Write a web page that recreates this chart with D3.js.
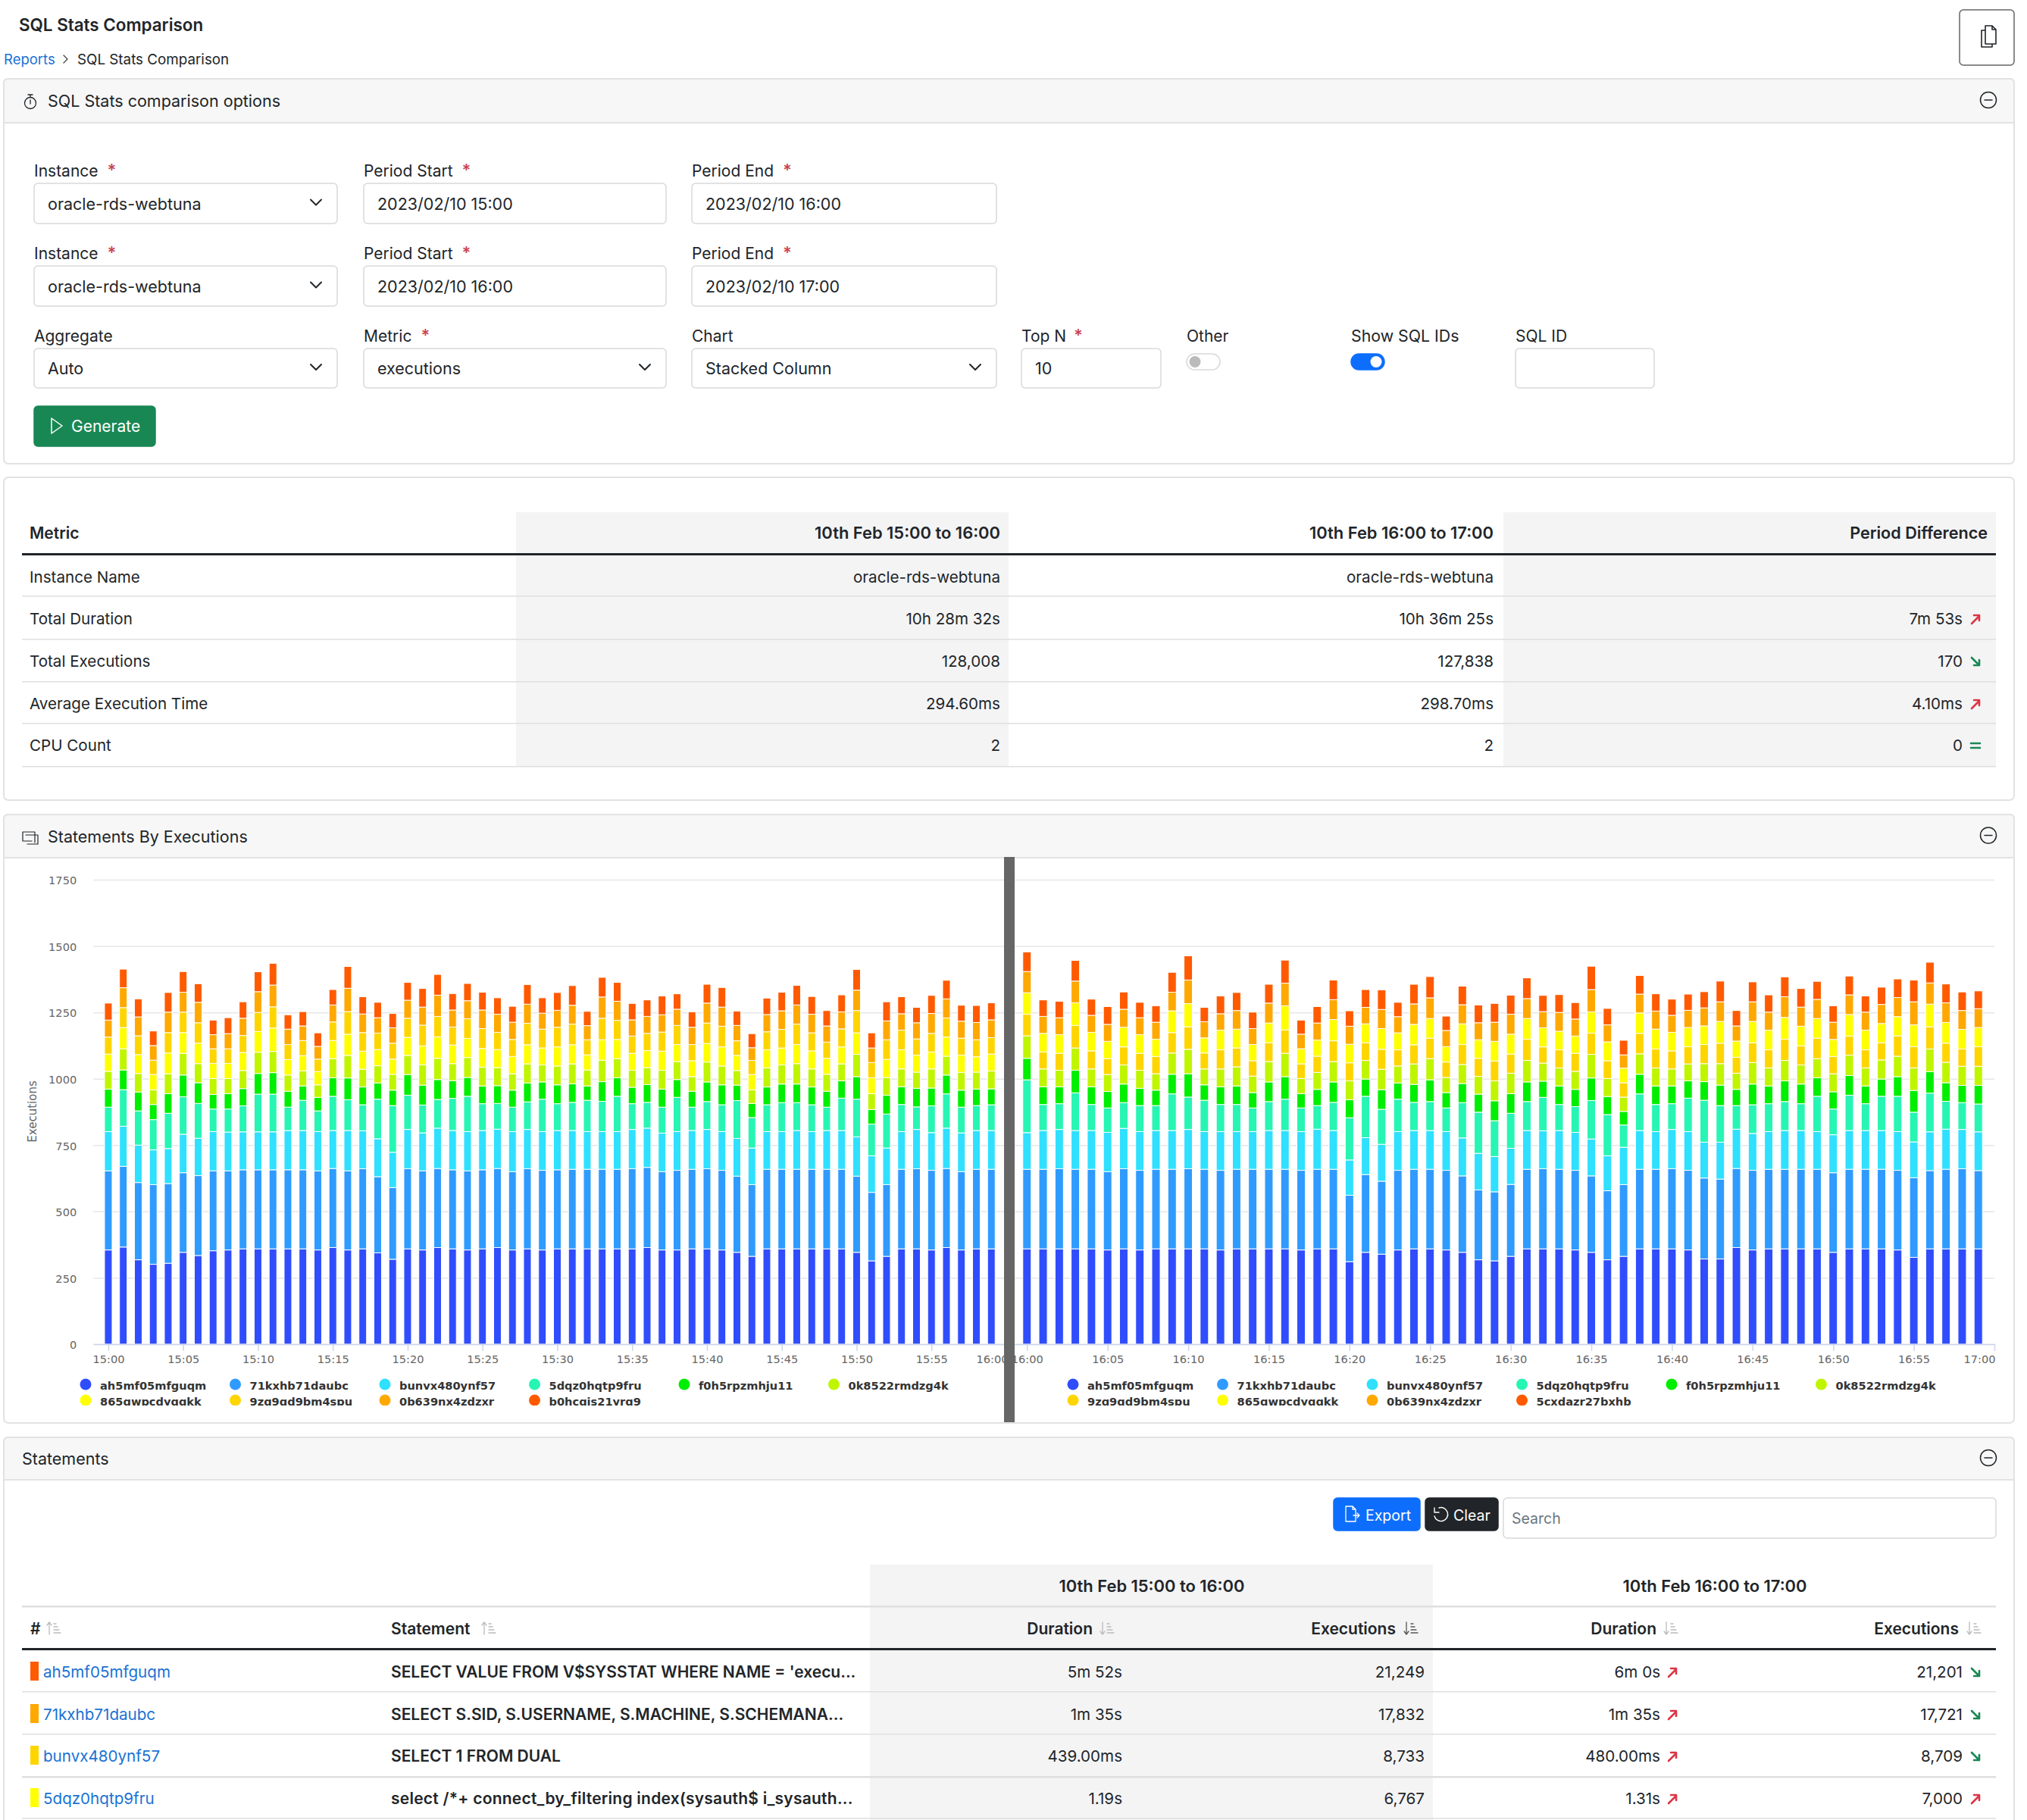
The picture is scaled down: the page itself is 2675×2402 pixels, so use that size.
<!DOCTYPE html>
<html>
<head>
<meta charset="utf-8">
<script src="https://cdn.jsdelivr.net/npm/d3@7"></script>
<style>
  body { margin: 0; background: #fff; overflow: hidden; }
  svg { display: block; font-family: Inter, sans-serif; }
</style>
</head>
<body>
<svg id="page" width="2675" height="2402"></svg>
<script>
// one row per minute, stacked bottom to top in the order of the ids below
const firstPeriodRows = [
[355,298,148,92,68,67,65,64,64,64],[366,304,151,138,74,80,80,75,75,70],[318,291,141,129,71,70,71,71,71,68],
[301,300,131,114,57,55,58,54,55,55],[305,300,132,133,74,75,78,77,77,74],[346,300,145,141,82,82,78,77,75,78],
[334,301,141,131,78,72,77,77,77,70],[352,301,148,85,55,60,57,55,53,55],[355,298,146,87,58,57,57,55,57,60],
[359,298,143,98,65,68,68,64,65,62],[359,298,143,142,78,80,78,72,78,75],[359,298,143,142,81,80,88,80,82,82],
[359,298,148,88,60,61,58,57,58,54],[359,298,148,114,54,57,57,57,55,54],[355,298,148,78,51,47,50,47,48,51],
[364,298,143,129,70,72,68,70,64,58],[355,298,152,116,82,85,80,85,88,82],[359,302,143,98,67,67,68,70,70,65],
[344,287,143,149,61,65,61,62,58,58],[320,270,133,176,58,60,57,60,58,54],[359,302,148,129,78,72,68,72,68,67],
[355,298,143,105,75,77,71,78,68,70],[364,298,152,108,75,80,81,77,80,78],[359,298,148,121,67,64,70,68,64,62],
[355,298,148,133,71,75,72,74,68,65],[359,298,148,101,67,71,70,75,70,67],[364,298,148,97,67,68,68,65,68,62],
[355,295,151,92,64,62,65,64,65,60],[359,302,148,104,71,72,72,81,72,74],[355,300,146,122,65,64,64,71,60,58],
[359,298,148,101,71,71,72,74,64,67],[359,300,146,106,70,75,72,78,71,74],[359,300,142,118,54,60,57,57,53,54],
[359,300,142,114,74,81,77,81,80,74],[359,300,142,133,70,72,72,72,72,71],[359,302,148,97,62,64,64,65,61,62],
[364,302,148,97,67,64,64,65,64,62],[355,295,145,98,68,71,72,72,65,71],[355,300,146,129,67,68,64,72,61,58],
[359,300,146,88,60,55,60,61,65,58],[359,302,148,105,74,75,70,77,75,71],[355,300,146,101,75,71,72,78,72,74],
[346,287,142,143,58,55,57,55,58,54],[331,270,138,115,53,51,58,53,48,53],[359,300,142,101,67,72,68,68,65,62],
[359,300,142,109,70,72,64,70,70,70],[359,300,146,105,70,77,72,77,72,74],[359,300,142,101,67,68,68,68,70,67],
[359,300,146,88,60,64,60,61,61,58],[359,300,146,122,65,64,64,68,64,64],[346,287,148,142,85,84,81,84,77,78],
[314,258,138,119,55,60,60,57,55,57],[331,270,138,128,71,67,68,74,71,72],[359,300,142,102,67,67,72,74,62,64],
[359,302,148,85,70,61,64,61,61,58],[355,300,142,101,67,72,64,70,75,68],[364,298,152,129,71,71,72,72,72,70],
[355,295,146,97,64,67,65,64,64,60],[359,300,146,94,62,64,58,64,65,64],[359,300,146,97,60,67,64,62,67,64]
];
const secondPeriodRows = [
[359,300,138,199,81,85,81,81,80,74],[359,300,146,98,67,67,64,70,64,62],[359,302,148,97,64,62,64,70,64,62],
[359,300,146,142,85,84,85,85,82,78],[359,300,146,98,67,67,68,70,64,61],[355,295,148,92,62,64,60,65,64,67],
[359,302,152,97,70,72,68,74,68,65],[355,300,146,98,65,68,64,70,64,58],[359,300,146,94,58,62,65,65,64,62],
[359,300,146,138,74,80,77,82,70,75],[359,302,148,122,88,92,85,87,89,91],[359,300,142,118,58,60,60,57,61,54],
[355,300,146,102,67,67,72,74,62,67],[359,300,142,102,70,72,71,71,70,68],[359,300,142,89,58,62,58,61,60,62],
[359,300,146,109,74,77,71,74,75,71],[359,300,146,118,85,88,88,91,85,87],[355,300,146,89,54,57,55,57,55,53],
[359,300,151,89,61,64,61,61,64,62],[359,300,146,106,77,77,78,80,75,74],[311,250,133,159,68,71,68,70,68,58],
[346,293,139,156,65,70,67,71,62,67],[339,275,139,132,74,77,75,78,72,74],[355,300,146,122,61,64,61,64,61,54],
[359,300,146,106,68,77,72,77,77,74],[359,300,146,109,82,80,77,74,78,80],[355,300,146,89,58,57,58,58,61,54],
[346,288,143,133,72,72,75,78,72,70],[318,263,138,155,68,67,68,70,64,67],[314,260,133,135,75,75,75,74,72,71],
[331,271,136,132,74,77,72,75,75,72],[359,300,146,109,74,81,80,78,75,78],[359,302,143,126,61,68,61,72,61,61],
[359,300,146,98,70,68,68,70,71,67],[355,300,143,97,65,68,68,65,64,62],[346,288,139,145,85,89,80,80,84,88],
[318,260,132,155,68,68,67,71,64,62],[331,270,141,84,51,54,54,55,50,55],[359,300,146,138,74,77,77,77,71,70],
[359,300,142,102,70,68,71,75,68,65],[359,302,148,97,67,64,68,70,64,61],[355,300,146,126,65,64,65,72,65,61],
[321,305,135,158,70,68,72,70,68,61],[321,301,139,138,77,81,77,82,74,78],[364,298,148,89,61,61,60,61,57,58],
[355,300,139,108,78,81,75,80,74,75],[359,300,142,105,67,68,68,74,68,65],[359,300,146,109,78,77,80,82,78,75],
[359,300,146,101,74,72,72,74,72,70],[359,300,142,133,70,72,77,74,72,68],[346,300,143,97,65,68,65,64,65,62],
[359,300,146,133,74,77,72,81,74,71],[359,300,146,101,67,68,68,74,68,61],[359,300,146,129,65,72,65,72,72,65],
[355,300,146,133,74,77,77,72,72,70],[327,300,135,112,82,85,80,82,87,82],[359,295,146,146,81,85,84,85,80,78],
[359,300,151,105,70,77,72,78,74,71],[359,302,148,101,65,72,65,74,71,70],[359,295,146,105,70,72,74,72,71,67]
];
const firstPeriodIds = ["ah5mf05mfguqm","71kxhb71daubc","bunvx480ynf57","5dqz0hqtp9fru","f0h5rpzmhju11","0k8522rmdzg4k","865qwpcdyqqkk","9zq9qd9bm4spu","0b639nx4zdzxr","b0hcqjs21yrq9"];
const secondPeriodIds = ["ah5mf05mfguqm","71kxhb71daubc","bunvx480ynf57","5dqz0hqtp9fru","f0h5rpzmhju11","0k8522rmdzg4k","9zq9qd9bm4spu","865qwpcdyqqkk","0b639nx4zdzxr","5cxdazr27bxhb"];
const firstPeriodColors = ["#304dfd","#2f9bff","#2fe0ff","#27f5b3","#00ee00","#c0f500","#ffff00","#ffd500","#ffa800","#ff5a00"];
const secondPeriodColors = ["#304dfd","#2f9bff","#2fe0ff","#27f5b3","#00ee00","#c0f500","#ffd500","#ffff00","#ffa800","#ff5a00"];
const yTicks = [0,250,500,750,1000,1250,1500,1750];

const metricHeader = ["Metric","10th Feb 15:00 to 16:00","10th Feb 16:00 to 17:00","Period Difference"];
const metricRows = [
  ["Instance Name","oracle-rds-webtuna","oracle-rds-webtuna","",""],
  ["Total Duration","10h 28m 32s","10h 36m 25s","7m 53s","up"],
  ["Total Executions","128,008","127,838","170","down"],
  ["Average Execution Time","294.60ms","298.70ms","4.10ms","up"],
  ["CPU Count","2","2","0","same"]
];
const statementRows = [
  ["ah5mf05mfguqm","SELECT VALUE FROM V$SYSSTAT WHERE NAME = 'execu...","5m 52s","21,249","6m 0s","up","21,201","down","#ff5a00"],
  ["71kxhb71daubc","SELECT S.SID, S.USERNAME, S.MACHINE, S.SCHEMANA...","1m 35s","17,832","1m 35s","up","17,721","down","#ffa800"],
  ["bunvx480ynf57","SELECT 1 FROM DUAL","439.00ms","8,733","480.00ms","up","8,709","down","#ffd500"],
  ["5dqz0hqtp9fru","select /*+ connect_by_filtering index(sysauth$ i_sysauth...","1.19s","6,767","1.31s","up","7,000","up","#ffff00"]
];

const svg = d3.select("#page");
const dark = "#212529";
const line = "#dfdfdf";
const linkBlue = "#1a72d4";
const cellSize = 20.6;
const dateHeadSize = 21.9;

function label(g, x, y, str, o = {}) {
  return g.append("text").attr("x", x).attr("y", y).text(str)
    .attr("dominant-baseline", "central")
    .attr("text-anchor", o.anchor || "start")
    .attr("font-size", o.size || 21)
    .attr("font-weight", o.weight || 400)
    .attr("fill", o.fill || dark);
}
function box(g, x0, y0, x1, y1, o = {}) {
  return g.append("rect").attr("x", x0).attr("y", y0).attr("width", x1 - x0).attr("height", y1 - y0)
    .attr("rx", o.rx === undefined ? 5 : o.rx)
    .attr("fill", o.fill || "#fff")
    .attr("stroke", o.stroke || "#d9d9d9")
    .attr("stroke-width", o.sw || 1.5);
}
function icon(g, d, o = {}) {
  return g.append("path").attr("d", d).attr("fill", o.fill || "none")
    .attr("stroke", o.stroke || dark).attr("stroke-width", o.sw || 1.5)
    .attr("stroke-linecap", "round").attr("stroke-linejoin", "round");
}
function panel(g, y0, y1, headerBottom, title, titleX) {
  box(g, 5, y0, 2658, y1, { rx: 6, stroke: "#e2e2e2", sw: 2 });
  g.append("path").attr("d", `M5 ${headerBottom}V${y0 + 6}q0 -6 6 -6H2652q6 0 6 6V${headerBottom}Z`)
    .attr("fill", "#f7f7f7").attr("stroke", "#e2e2e2").attr("stroke-width", 2);
  const cy = (y0 + headerBottom) / 2;
  label(g, titleX, cy, title, { size: 21.5 });
  g.append("circle").attr("cx", 2624).attr("cy", cy - 1).attr("r", 10.5)
    .attr("fill", "none").attr("stroke", dark).attr("stroke-width", 1.5);
  icon(g, `M2619 ${cy - 1}H2629`);
}
function chevron(g, x, y) { icon(g, `M${x - 7} ${y - 4}l7 7l7 -7`, { sw: 2 }); }
function arrow(g, x, y, kind) {
  if (kind === "up") {
    icon(g, `M${x - 5} ${y + 6}L${x + 5} ${y - 4}M${x - 2} ${y - 5}H${x + 5}V${y + 2}`, { stroke: "#dc3545", sw: 2.6 });
  } else if (kind === "down") {
    icon(g, `M${x - 5} ${y - 5}L${x + 5} ${y + 5}M${x + 5} ${y - 2}V${y + 5}H${x - 2}`, { stroke: "#198754", sw: 2.6 });
  } else if (kind === "same") {
    icon(g, `M${x - 6} ${y - 3}H${x + 6}M${x - 6} ${y + 3}H${x + 6}`, { stroke: "#198754", sw: 2.6 });
  }
}
function sortIcon(g, x, y, up, active) {
  const c = active ? "#555" : "#bbb";
  if (up) icon(g, `M${x - 6} ${y + 8}V${y - 8}M${x - 9} ${y - 4}l3 -4l3 4`, { stroke: c, sw: 1.3 });
  else icon(g, `M${x - 6} ${y - 8}V${y + 8}M${x - 9} ${y + 4}l3 4l3 -4`, { stroke: c, sw: 1.3 });
  icon(g, `M${x} ${y - 6}h3M${x} ${y - 2}h5M${x} ${y + 2}h7M${x} ${y + 6}h9`, { stroke: c, sw: 1.3 });
}

// page title
const pageHead = svg.append("g");
label(pageHead, 25, 32, "SQL Stats Comparison", { size: 22.4, weight: 600 });
label(pageHead, 5, 78, "Reports", { size: 18.5, fill: linkBlue });
icon(pageHead, "M84 73l5 5l-5 5", { stroke: "#444", sw: 1.3 });
label(pageHead, 102, 78, "SQL Stats Comparison", { size: 18.8 });
box(pageHead, 2586, 13, 2658, 86, { stroke: "#666", sw: 1.5 });
icon(pageHead, "M2620 34h9l5 5v19h-14zM2629 34v5h5M2620 40h-5v22h14v-4", { sw: 1.6 });

// options form
const form = svg.append("g");
panel(form, 104, 612, 162, "SQL Stats comparison options", 63);
form.append("circle").attr("cx", 40).attr("cy", 136).attr("r", 7.5).attr("fill", "none").attr("stroke", dark).attr("stroke-width", 1.3);
icon(form, "M37 125h6M40 125v3M40 132v5", { sw: 1.3 });

const fieldColumns = [[45, 445], [480, 879], [913, 1315]];
const fieldRows = [
  { label: 225, y0: 242, y1: 295 },
  { label: 334, y0: 351, y1: 404 },
  { label: 443, y0: 460, y1: 512 }
];
const fieldTexts = [
  [["Instance","oracle-rds-webtuna",1,1],["Period Start","2023/02/10 15:00",1,0],["Period End","2023/02/10 16:00",1,0]],
  [["Instance","oracle-rds-webtuna",1,1],["Period Start","2023/02/10 16:00",1,0],["Period End","2023/02/10 17:00",1,0]],
  [["Aggregate","Auto",0,1],["Metric","executions",1,1],["Chart","Stacked Column",0,1]]
];
function star(g, x, y) { label(g, x, y, "*", { fill: "#c9424f", size: 22, weight: 600 }); }
fieldTexts.forEach((row, r) => row.forEach((f, c) => {
  const [x0, x1] = fieldColumns[c], fr = fieldRows[r];
  const t = label(form, x0, fr.label, f[0]);
  if (f[2]) star(form, x0 + t.node().getComputedTextLength() + 12, fr.label - 1);
  box(form, x0, fr.y0, x1, fr.y1);
  label(form, x0 + 18, (fr.y0 + fr.y1) / 2, f[1], { size: 21.5 });
  if (f[3]) chevron(form, x1 - 28, (fr.y0 + fr.y1) / 2 - 1);
}));
label(form, 1348, 443, "Top N");
star(form, 1417, 442);
box(form, 1348, 460, 1532, 512);
label(form, 1366, 486, "10", { size: 21.5 });
label(form, 1566, 443, "Other");
box(form, 1566, 467, 1610, 488, { rx: 10.5 });
form.append("circle").attr("cx", 1577).attr("cy", 477.5).attr("r", 7.5).attr("fill", "#bbb");
label(form, 1783, 443, "Show SQL IDs", { size: 21.3 });
box(form, 1783, 467, 1827, 488, { rx: 10.5, fill: "#0d6efd", stroke: "#0d6efd" });
form.append("circle").attr("cx", 1816).attr("cy", 477.5).attr("r", 7.5).attr("fill", "#fff");
label(form, 2000, 443, "SQL ID");
box(form, 2000, 460, 2183, 512);
box(form, 45, 536, 205, 589, { fill: "#198754", stroke: "#198754" });
icon(form, "M68 552l14 10l-14 10z", { stroke: "#fff", sw: 1.5 });
label(form, 94, 562, "Generate", { fill: "#fff" });

// metric table
const metrics = svg.append("g");
box(metrics, 5, 630, 2658, 1056, { rx: 6, stroke: "#e2e2e2", sw: 2 });
metrics.append("rect").attr("x", 681).attr("y", 676).attr("width", 650).attr("height", 335).attr("fill", "#f4f4f5");
metrics.append("rect").attr("x", 1984).attr("y", 676).attr("width", 650).attr("height", 335).attr("fill", "#f4f4f5");
const metricRight = [null, 1320, 1971, 2623];
const metricY = [761, 816, 872, 928, 983];
const metricLines = [786, 843, 899, 954, 1011];
label(metrics, 39, 703, metricHeader[0], { weight: 600 });
metricHeader.slice(1).forEach((h, i) => label(metrics, metricRight[i + 1], 703, h, { weight: 600, anchor: "end", size: i < 2 ? dateHeadSize : 21.6 }));
metrics.append("rect").attr("x", 29).attr("y", 730).attr("width", 2605).attr("height", 3).attr("fill", dark);
metricRows.forEach((row, i) => {
  metrics.append("rect").attr("x", 29).attr("y", metricLines[i]).attr("width", 2605).attr("height", 1.5).attr("fill", line);
  label(metrics, 39, metricY[i], row[0], { size: cellSize });
  label(metrics, metricRight[1], metricY[i], row[1], { anchor: "end", size: cellSize });
  label(metrics, metricRight[2], metricY[i], row[2], { anchor: "end", size: cellSize });
  label(metrics, 2590, metricY[i], row[3], { anchor: "end", size: cellSize });
  arrow(metrics, 2607, metricY[i] + 1, row[4]);
});

// statements by executions
const chartPanel = svg.append("g");
panel(chartPanel, 1075, 1878, 1132, "Statements By Executions", 63);
icon(chartPanel, "M30 1098h16v14M30 1098v12h12M34 1102h16v12h-14", { sw: 1.2 });

const yScale = d3.scaleLinear().domain([0, 1750]).range([1774, 1161]);

function drawChart(rows, ids, colors, o) {
  const g = svg.append("g").attr("font-family", "'DejaVu Sans', sans-serif");
  const x = d3.scaleTime().domain([o.from, o.to]).range([o.x0, o.x1]);
  const times = rows.map((d, i) => d3.timeMinute.offset(o.first, i));

  const yAxis = g.append("g").attr("transform", `translate(${o.x0},0)`)
    .call(d3.axisLeft(yScale).tickValues(yTicks).tickSize(-(o.x1 - o.x0)).tickPadding(22).tickFormat(o.labels ? d3.format("d") : ""));
  yAxis.select(".domain").remove();
  yAxis.selectAll("line").attr("stroke", "#e6e6e6").attr("stroke-width", 1.5);
  yAxis.selectAll("text").attr("font-family", "'DejaVu Sans', sans-serif").attr("font-size", 14.6).attr("fill", "#666").attr("dy", "0.4em");

  const stack = d3.stack().keys(d3.range(ids.length))(rows);
  g.selectAll("g.series").data(stack).join("g").attr("class", "series")
    .attr("fill", (d, i) => colors[i])
    .selectAll("rect").data(d => d).join("rect")
    .attr("x", (d, i) => x(times[i]) - o.bar / 2)
    .attr("y", d => yScale(d[1]))
    .attr("width", o.bar)
    .attr("height", d => yScale(d[0]) - yScale(d[1]))
    .attr("stroke", "#fff").attr("stroke-width", 1);

  const xAxis = g.append("g").attr("transform", "translate(0,1774)")
    .call(d3.axisBottom(x).tickValues(d3.timeMinute.range(o.first, d3.timeMinute.offset(o.first, 61), 5))
      .tickFormat(d3.timeFormat("%H:%M")).tickSize(9).tickSizeOuter(0).tickPadding(6));
  xAxis.select(".domain").attr("stroke", "#ccd6eb").attr("stroke-width", 1.5);
  xAxis.selectAll("line").attr("stroke", "#ccd6eb").attr("stroke-width", 1.5);
  xAxis.selectAll("text").attr("font-family", "'DejaVu Sans', sans-serif").attr("font-size", 14.6).attr("fill", "#666");
  // the last label is pushed back inside the plot
  xAxis.selectAll("text").filter((d, i, n) => i === n.length - 1).attr("dx", o.lastShift);

  // second legend row is cut off by the chart height
  const clipId = "legend" + o.first.getHours();
  g.append("clipPath").attr("id", clipId).append("rect")
    .attr("x", o.x0 - 30).attr("y", 1810).attr("width", o.x1 - o.x0 + 60).attr("height", 45);
  const legend = g.append("g").attr("clip-path", `url(#${clipId})`);
  ids.forEach((id, i) => {
    const lx = o.legendX + (i % 6) * 197.5, ly = i < 6 ? 1827 : 1848;
    legend.append("ellipse").attr("cx", lx).attr("cy", ly).attr("rx", 7.5).attr("ry", 7.5).attr("fill", colors[i]);
    legend.append("text").attr("x", lx + 19).attr("y", ly + 1).attr("dominant-baseline", "central")
      .attr("font-size", 14.6).attr("font-weight", 700).attr("fill", "#333").text(id);
  });
}

drawChart(firstPeriodRows, firstPeriodIds, firstPeriodColors, {
  first: new Date(2023, 1, 10, 15, 0), from: new Date(2023, 1, 10, 14, 59), to: new Date(2023, 1, 10, 16, 0),
  x0: 123.2, x1: 1328, bar: 10, labels: true, legendX: 113, lastShift: -19
});
drawChart(secondPeriodRows, secondPeriodIds, secondPeriodColors, {
  first: new Date(2023, 1, 10, 16, 0), from: new Date(2023, 1, 10, 15, 59), to: new Date(2023, 1, 10, 17, 0),
  x0: 1334, x1: 2632, bar: 11, labels: false, legendX: 1416, lastShift: -20
});
svg.append("rect").attr("x", 1325).attr("y", 1131).attr("width", 14).attr("height", 746).attr("fill", "#666");
svg.append("text").attr("transform", "translate(43,1467) rotate(-90)").attr("text-anchor", "middle")
  .attr("dominant-baseline", "central").attr("font-family", "'DejaVu Sans', sans-serif")
  .attr("font-size", 15).attr("fill", "#666").text("Executions");

// statements table
const st = svg.append("g");
panel(st, 1897, 2420, 1953, "Statements", 29);
box(st, 1760, 1977, 1874, 2020, { fill: "#0d6efd", stroke: "#0d6efd" });
icon(st, "M1776 1988h9l4 4v16h-13zM1785 1988v4h4M1786 2000h8M1791 1997l3 3l-3 3", { stroke: "#fff", sw: 1.3 });
label(st, 1802, 2000, "Export", { fill: "#fff", size: 19.5 });
box(st, 1881, 1977, 1977, 2020, { fill: dark, stroke: dark });
icon(st, "M1899 1990a9 9 0 1 1 -6 11M1893 1990v6h6", { stroke: "#fff", sw: 1.4 });
label(st, 1918, 2000, "Clear", { fill: "#fff", size: 19.5 });
box(st, 1984, 1977, 2634, 2030);
label(st, 1995, 2004, "Search", { fill: "#6c757d", size: 19.5 });

st.append("rect").attr("x", 1148).attr("y", 2065).attr("width", 743).attr("height", 340).attr("fill", "#f4f4f5");
label(st, 1520, 2093, metricHeader[1], { weight: 600, anchor: "middle", size: dateHeadSize });
label(st, 2263, 2093, metricHeader[2], { weight: 600, anchor: "middle", size: dateHeadSize });
st.append("rect").attr("x", 29).attr("y", 2119).attr("width", 2605).attr("height", 2.5).attr("fill", line);
const statementHeads = [
  ["#", 40, "start", 71, true, false],
  ["Statement", 516, "start", 645, true, false],
  ["Duration", 1442, "end", 1461, false, false],
  ["Executions", 1842, "end", 1862, false, true],
  ["Duration", 2186, "end", 2205, false, false],
  ["Executions", 2585, "end", 2605, false, false]
];
statementHeads.forEach(h => {
  label(st, h[1], 2149, h[0], { weight: 600, anchor: h[2] });
  sortIcon(st, h[3], 2149, h[4], h[5]);
});
st.append("rect").attr("x", 29).attr("y", 2175).attr("width", 2605).attr("height", 3).attr("fill", dark);
const statementY = [2206, 2262, 2317, 2373];
const statementLines = [2232, 2288, 2344, 2399];
statementRows.forEach((row, i) => {
  const y = statementY[i];
  st.append("rect").attr("x", 29).attr("y", statementLines[i]).attr("width", 2605).attr("height", i === 2 ? 2.5 : 1.5).attr("fill", line);
  st.append("rect").attr("x", 40).attr("y", y - 13).attr("width", 11).attr("height", 25).attr("fill", row[8]);
  label(st, 57, y, row[0], { fill: linkBlue, size: cellSize });
  const stmt = label(st, 516, y, row[1], { weight: 600 });
  if (i === 3) stmt.attr("letter-spacing", 0.24);
  label(st, 1481, y, row[2], { anchor: "end", size: cellSize });
  label(st, 1880, y, row[3], { anchor: "end", size: cellSize });
  label(st, 2191, y, row[4], { anchor: "end", size: cellSize });
  arrow(st, 2207, y + 1, row[5]);
  label(st, 2590, y, row[6], { anchor: "end", size: cellSize });
  arrow(st, 2607, y + 1, row[7]);
});
</script>
</body>
</html>
